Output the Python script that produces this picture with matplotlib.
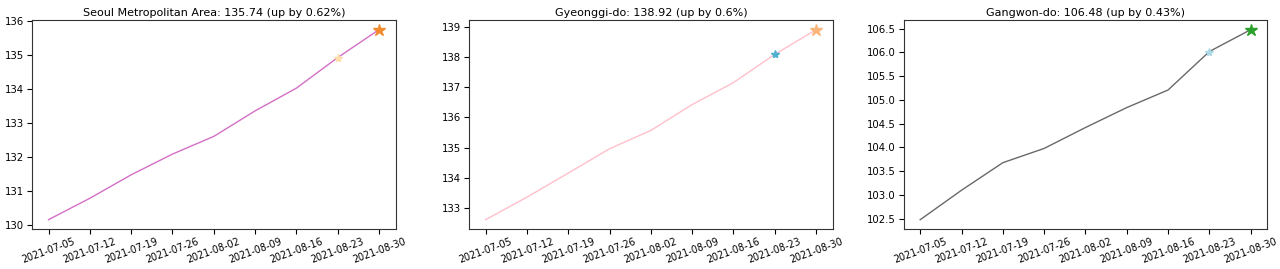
import matplotlib
matplotlib.use("Agg")
import matplotlib.pyplot as plt
import matplotlib.dates as mdates
import numpy as np
import pandas as pd

dates = ["2021-07-05", "2021-07-12", "2021-07-19", "2021-07-26", "2021-08-02",
         "2021-08-09", "2021-08-16", "2021-08-23", "2021-08-30"]

regions = ["Seoul Metropolitan Area", "Gyeonggi-do", "Gangwon-do"]
seoul = [130.15, 130.78, 131.47, 132.08, 132.60, 133.35, 134.02, 134.92, 135.74]
gyeonggi = [132.60, 133.35, 134.15, 134.96, 135.57, 136.43, 137.16, 138.10, 138.92]
gangwon = [102.48, 103.10, 103.68, 103.98, 104.42, 104.84, 105.21, 106.02, 106.48]
changes = ["0.62", "0.6", "0.43"]

line_colors = ["#d46fc6", "pink", "dimgray"]
prev_star_colors = ["navajowhite", "#4fb0cf", "lightblue"]
last_star_colors = ["#f28a2e", "#f9b57a", "#2ca02c"]

x = pd.to_datetime(dates)
series = [seoul, gyeonggi, gangwon]

fig = plt.figure(figsize=(12.8, 2.69), dpi=100)
lefts = [0.025, 0.3665, 0.706]
width = 0.284
for i, (name, vals) in enumerate(zip(regions, series)):
    ax = fig.add_axes([lefts[i], 0.148, width, 0.777])
    ax.plot(x, vals, color=line_colors[i], lw=1.0)
    ax.plot(x[-2], vals[-2], marker="*", color=prev_star_colors[i], ms=6, ls="none")
    ax.plot(x[-1], vals[-1], marker="*", color=last_star_colors[i], ms=9, ls="none")
    ax.set_title(f"{name}: {vals[-1]:.2f} (up by {changes[i]}%)", fontsize=8.0, pad=3)
    ax.set_xticks(x)
    ax.xaxis.set_major_formatter(mdates.DateFormatter("%Y-%m-%d"))
    ax.tick_params(axis="x", labelsize=6.9, rotation=20, pad=1.5)
    ax.tick_params(axis="y", labelsize=7.3, pad=2)
    for s in ax.spines.values():
        s.set_color("#333333")

fig.savefig("out.png", dpi=100)
